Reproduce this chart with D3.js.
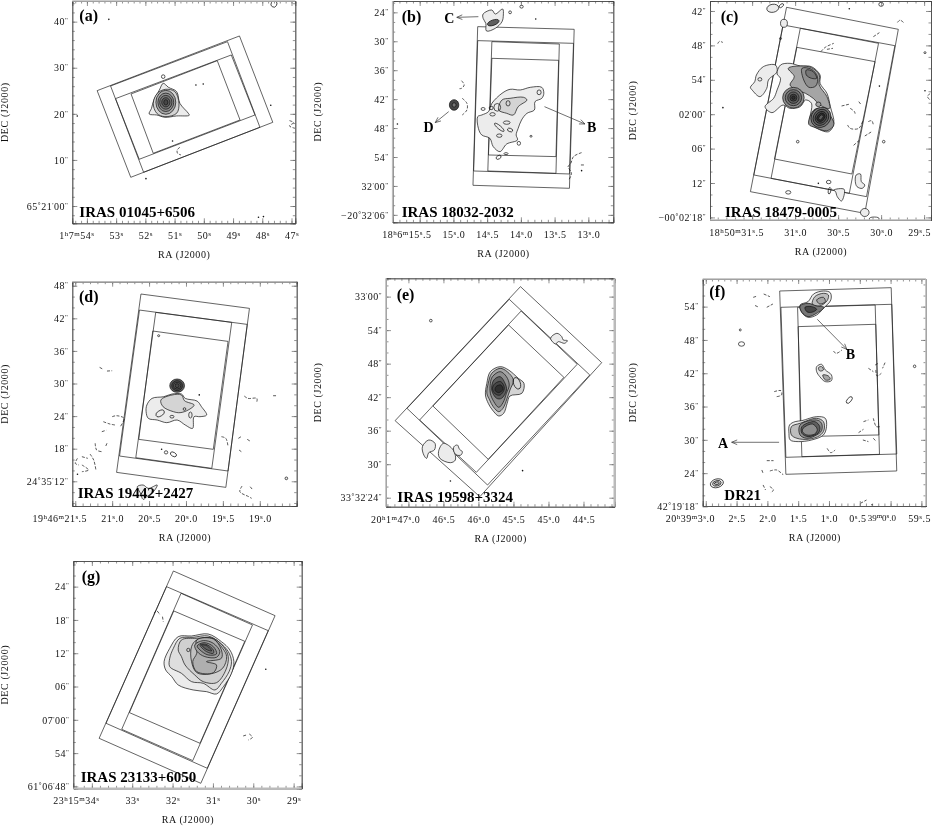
<!DOCTYPE html>
<html>
<head>
<meta charset="utf-8">
<script src="https://cdn.jsdelivr.net/npm/d3@7"></script>
<style>
html, body { margin: 0; background: #fff; }
svg { display: block; filter: blur(0.3px); }
text { font-family: "Liberation Serif", serif; fill: #111; }
.tick text { font-size: 10px; letter-spacing: 0.5px; }
.axis-title { font-size: 10px; letter-spacing: 0.6px; }
.panel-name { font-size: 15px; font-weight: bold; fill: #000; }
.panel-tag { font-size: 16px; font-weight: bold; fill: #000; }
.mark-name { font-size: 14px; font-weight: bold; fill: #000; }
</style>
</head>
<body>
<svg id="chart" width="932" height="826"></svg>
<script>
// All contour data is [RA seconds, Dec arcsec].
// Rings are [ra, dec, rxSec, ryArcsec, rotationDeg, level]; level null means an unfilled loop.

// ---- Panel (a) IRAS 01045+6506
const aRaTicks = [54, 53, 52, 51, 50, 49, 48, 47];
const aRaLabels = ['1^h7^m54^s', '53^s', '52^s', '51^s', '50^s', '49^s', '48^s', '47^s'];
const aDecTicks = [40, 30, 20, 10, 0];
const aDecLabels = ['40^"', '30^"', '20^"', '10^"', "65^°21^'00^\""];
const aFields = [
    [[53.65, 25.03], [48.78, 36.89], [47.64, 18.16], [52.50, 6.23]],
    [[53.19, 26.04], [49.19, 35.66], [48.08, 17.08], [52.06, 7.32]],
    [[53.02, 23.30], [49.06, 32.77], [48.25, 19.75], [52.21, 10.14]],
    [[52.49, 24.31], [49.54, 31.54], [48.76, 18.67], [51.73, 11.44]]
];
const aOuter = [[51.39, 26.62], [51.21, 25.75], [50.93, 24.82], [50.82, 22.28], [50.53, 20.12], [50.50, 19.68], [50.93, 19.54], [51.33, 19.25], [51.61, 19.75], [51.87, 19.97], [51.79, 21.2], [51.71, 23.0], [51.52, 25.18]];
const aInner = [[51.31, 25.32], [50.99, 24.82], [50.85, 22.28], [50.93, 20.12], [51.33, 19.39], [51.61, 20.12], [51.73, 22.28], [51.59, 24.45]];
const aRings = [
    [51.30, 22.5, .34, 2.6, 0, 3], [51.30, 22.5, .27, 2.0, 0, 4], [51.30, 22.5, .21, 1.5, 0, 5],
    [51.30, 22.5, .14, 1.0, 0, 6], [51.30, 22.5, .07, .58, 0, 7],
    [51.39, 28.07, .06, .4, 0, null], [47.60, 43.83, .1, .7, 30, null]
];
const aDashes = [
    [[50.82, 12.74], [50.91, 12.16], [50.90, 11.44], [50.78, 11.08]],
    [[47.07, 18.53], [46.93, 18.09], [47.07, 17.37], [46.88, 16.86]]
];
const aSpecks = [[53.25, 40.5], [54.33, 19.54], [51.98, 5.94], [50.02, 26.48], [50.27, 26.26], [51.07, 14.11], [47.71, 21.85], [48.13, -2.44], [47.96, -2.3]];

// ---- Panel (b) IRAS 18032-2032 (Dec counts arcsec south of -20 31 00)
const bRaTicks = [15.5, 15, 14.5, 14, 13.5, 13];
const bRaLabels = ['18^h6^m15^s.5', '15^s.0', '14^s.5', '14^s.0', '13^s.5', '13^s.0'];
const bDecTicks = [24, 30, 36, 42, 48, 54, 60, 66];
const bDecLabels = ['24^"', '30^"', '36^"', '42^"', '48^"', '54^"', "32^'00^\"", "−20^°32^'06^\""];
const bFields = [
    [[14.64, 26.97], [13.21, 27.52], [13.28, 60.49], [14.71, 59.87]],
    [[14.64, 29.87], [13.22, 30.43], [13.28, 57.52], [14.70, 56.90]],
    [[14.43, 30.08], [13.43, 30.57], [13.48, 57.38], [14.49, 56.90]],
    [[14.43, 33.54], [13.44, 33.95], [13.48, 53.92], [14.48, 53.58]]
];
const bOuter = [[14.64, 45.63], [14.58, 45.29], [14.48, 44.59], [14.43, 42.87], [14.28, 40.79], [14.16, 39.96], [14.01, 40.10], [13.86, 39.55], [13.69, 39.55], [13.66, 40.79], [13.69, 41.83], [13.79, 42.52], [13.80, 44.25], [13.91, 44.94], [13.99, 46.32], [14.04, 48.05], [14.07, 49.43], [14.05, 50.47], [14.21, 51.30], [14.31, 52.89], [14.41, 51.85], [14.46, 50.12], [14.58, 49.43], [14.63, 48.05]];
const bInner = [[14.28, 42.18], [14.16, 41.83], [13.96, 41.62], [13.91, 42.18], [14.04, 43.56], [14.11, 45.29], [14.21, 44.94], [14.33, 44.25]];
const bSourceC = [[14.56, 24.35], [14.43, 23.52], [14.38, 24.35], [14.27, 23.31], [14.26, 24.55], [14.28, 25.94], [14.38, 27.32], [14.51, 27.87], [14.52, 26.28], [14.56, 25.24]];
const bRings = [
    [14.35, 43.70, .05, .8, 0, null], [14.19, 42.87, .03, .55, 0, null], [14.56, 44.04, .03, .3, 0, null],
    [14.44, 43.83, .03, .35, 0, null], [14.42, 45.15, .04, .35, 0, null], [13.73, 40.59, .03, .5, 0, null],
    [14.32, 47.84, .09, .35, 40, null], [14.21, 46.87, .05, .35, 0, null], [14.16, 48.4, .04, .35, 20, null],
    [14.32, 49.57, .04, .35, 0, null], [14.03, 51.16, .025, .4, 0, null], [14.33, 54.06, .04, .35, -30, null],
    [14.22, 53.3, .03, .2, 0, null], [13.85, 49.7, .015, .2, 0, null],
    [14.41, 26.14, .09, .55, -20, 6], [14.99, 43.21, .07, 1.1, 0, 7], [14.99, 43.21, .03, .45, 0, 5],
    [14.16, 24, .02, .3, 0, null], [13.99, 22.83, .025, .3, 0, null]
];
const bDashes = [
    [[14.88, 38.17], [14.84, 39.06], [14.88, 39.76], [14.91, 39.83]],
    [[14.87, 41.83], [14.80, 42.87], [14.80, 44.25], [14.87, 45.29]],
    [[13.10, 53.09], [13.22, 53.92], [13.26, 55.31], [13.30, 56.0], [13.25, 57.38], [13.29, 58.76]],
    [[13.11, 55.65], [13.05, 55.65]]
];
const bSpecks = [[13.78, 25.38], [15.83, 47.15], [13.10, 56.83]];
const bArrows = [[14.63, 24.90, 14.95, 25.04], [15.07, 44.59, 15.27, 46.87], [13.65, 43.56, 13.05, 47.15]];
const bMarks = [['C', 15.06, 25.24], ['D', 15.37, 47.7], ['B', 12.95, 47.84]];

// ---- Panel (c) IRAS 18479-0005 (Dec counts arcsec south of -00 01 00)
const cRaTicks = [31.5, 31, 30.5, 30, 29.5];
const cRaLabels = ['18^h50^m31^s.5', '31^s.0', '30^s.5', '30^s.0', '29^s.5'];
const cDecTicks = [42, 48, 54, 60, 66, 72, 78];
const cDecLabels = ['42^"', '48^"', '54^"', "02^'00^\"", '06^"', '12^"', "−00^°02^'18^\""];
const cFields = [
    [[31.10, 41.36], [29.80, 45.20], [30.19, 77.29], [31.52, 73.51]],
    [[31.14, 44.44], [29.84, 48.05], [30.17, 74.38], [31.48, 70.60]],
    [[30.94, 45.02], [30.03, 47.64], [30.37, 73.80], [31.28, 71.19]],
    [[30.98, 48.34], [30.07, 50.84], [30.34, 70.43], [31.24, 67.81]]
];
const cWest = [[31.45, 53.16], [31.37, 51.71], [31.23, 51.42], [31.21, 52.58], [31.31, 54.03], [31.33, 55.49], [31.41, 56.94], [31.50, 55.78], [31.52, 55.31], [31.47, 54.33]];
const cMain = [[31.17, 51.42], [31.06, 51.13], [30.94, 51.59], [30.81, 51.71], [30.71, 53.16], [30.71, 54.62], [30.63, 56.36], [30.59, 58.69], [30.55, 61.59], [30.61, 63.05], [30.77, 62.29], [30.83, 61.59], [30.81, 58.10], [30.88, 57.52], [30.94, 58.69], [31.06, 58.98], [31.14, 58.40], [31.27, 59.73], [31.35, 58.69], [31.25, 57.23], [31.21, 55.78], [31.17, 53.74], [31.21, 52.99]];
const cMid = [[31.08, 52.0], [30.94, 51.59], [30.81, 51.88], [30.72, 53.16], [30.72, 54.91], [30.63, 56.94], [30.60, 58.98], [30.71, 58.40], [30.79, 57.23], [30.88, 56.36], [30.98, 55.78], [31.06, 54.91], [31.01, 53.45]];
const cCrest = [[30.92, 52.0], [30.81, 52.17], [30.74, 53.45], [30.76, 55.08], [30.84, 55.31], [30.90, 54.03]];
const cCrestTop = [[30.87, 52.29], [30.79, 52.58], [30.75, 53.74], [30.81, 53.74], [30.87, 53.16]];
const cSouth = [[30.83, 60.5], [30.77, 59.12], [30.67, 59.12], [30.58, 60.5], [30.55, 61.9], [30.63, 62.9], [30.77, 62.3], [30.84, 61.8]];
const cBlobE = [[30.29, 70.60], [30.24, 70.43], [30.23, 71.77], [30.19, 72.35], [30.22, 72.93], [30.28, 72.64], [30.30, 71.77]];
const cBlobS = [[30.55, 73.22], [30.43, 73.10], [30.46, 75.14], [30.51, 74.38], [30.53, 73.51]];
const cRings = [
    [31.02, 57.12, .125, 1.8, 0, 4], [31.02, 57.12, .095, 1.4, 0, 5], [31.02, 57.12, .066, 1.0, 0, 6],
    [31.02, 57.12, .04, .6, 0, 7], [31.02, 57.12, .02, .3, 0, 8],
    [30.70, 60.55, .11, 1.85, 40, 5], [30.70, 60.55, .085, 1.5, 40, 6], [30.70, 60.55, .062, 1.1, 40, 7],
    [30.70, 60.55, .04, .8, 40, 8], [30.70, 60.55, .02, .5, 40, 6],
    [30.73, 58.28, .03, .4, 0, 3], [31.41, 53.92, .023, .3, 0, null],
    [30.61, 71.83, .027, .3, 0, null], [31.08, 73.63, .03, .3, 0, null], [30.60, 73.34, .015, .58, 10, null],
    [30.19, 77.14, .05, .7, 0, 0], [30.08, 78.28, .058, .35, 0, null],
    [31.26, 41.53, .07, .7, -10, 0], [31.16, 41.07, .03, .25, -40, null], [31.13, 44.15, .04, .7, 0, 0],
    [31.17, 46.8, .012, .17, 0, null], [30.0, 40.84, .027, .35, 0, null], [30.97, 64.79, .015, .23, 0, null],
    [29.97, 64.79, .015, .23, 0, null], [29.49, 49.27, .012, .17, 0, null]
];
const cDashes = [
    [[30.70, 49.09], [30.65, 48.34], [30.55, 47.64]], [[30.63, 48.69], [30.56, 48.51]],
    [[30.09, 46.48], [30.02, 45.78]], [[31.90, 47.7], [31.88, 47.3], [31.84, 47.5]],
    [[30.46, 58.57], [30.36, 58.22]], [[30.26, 57.81], [30.23, 58.40]],
    [[30.36, 58.98], [30.31, 59.56], [30.30, 60.14]],
    [[30.39, 61.88], [30.36, 62.47], [30.26, 62.47], [30.21, 61.0]],
    [[30.15, 61.30], [30.11, 61.13], [30.09, 61.88]], [[30.19, 63.80], [30.11, 63.05]],
    [[30.32, 65.43], [30.26, 64.62]], [[29.43, 56.36], [29.46, 56.94], [29.43, 57.52]],
    [[29.81, 44.0], [29.78, 43.6], [29.74, 44.0]]
];
const cSpecks = [[31.84, 58.86], [30.73, 72.06], [30.37, 41.6], [29.49, 55.9], [30.02, 55.1]];

// ---- Panel (d) IRAS 19442+2427
const dRaTicks = [21.5, 21, 20.5, 20, 19.5, 19];
const dRaLabels = ['19^h46^m21^s.5', '21^s.0', '20^s.5', '20^s.0', '19^s.5', '19^s.0'];
const dDecTicks = [48, 42, 36, 30, 24, 18, 12];
const dDecLabels = ['48^"', '42^"', '36^"', '30^"', '24^"', '18^"', "24^°35^'12^\""];
const dFields = [
    [[20.61, 46.47], [19.14, 43.83], [19.46, 10.88], [20.94, 13.64]],
    [[20.63, 43.52], [19.17, 40.88], [19.43, 13.89], [20.90, 16.65]],
    [[20.41, 43.09], [19.38, 41.25], [19.65, 14.38], [20.68, 16.34]],
    [[20.45, 39.66], [19.43, 37.75], [19.63, 17.88], [20.64, 19.72]]
];
const dOuter = [[20.53, 26.04], [20.46, 27.26], [20.30, 27.57], [20.19, 28.06], [20.06, 28.06], [20.01, 27.26], [19.85, 26.77], [19.79, 25.73], [19.72, 24.20], [19.81, 23.89], [19.89, 23.89], [19.91, 21.74], [20.01, 22.36], [20.12, 23.28], [20.26, 22.79], [20.39, 23.28], [20.51, 23.58], [20.54, 24.81]];
const dInner = [[20.34, 26.96], [20.19, 27.88], [20.06, 27.88], [20.02, 26.83], [19.89, 26.04], [19.97, 25.12], [20.08, 24.63], [20.17, 24.81], [20.31, 25.73]];
const dBottom = [[20.66, 11.0], [20.58, 11.31], [20.51, 10.70], [20.39, 11.31], [20.44, 10.09], [20.53, 9.17], [20.58, 8.67], [20.62, 9.9]];
const dRings = [
    [20.12, 29.60, .10, 1.23, 0, 6], [20.12, 29.60, .072, .92, 0, 7], [20.12, 29.60, .05, .61, 0, 6],
    [20.12, 29.60, .027, .37, 0, 7],
    [20.35, 24.50, .063, .5, -30, null], [20.19, 23.89, .027, .25, 0, null], [19.94, 24.20, .023, .55, 0, null],
    [20.02, 25.30, .018, .25, 0, null], [20.37, 38.8, .014, .18, 0, null], [20.27, 17.32, .023, .3, 0, null],
    [20.17, 16.96, .045, .37, 30, null], [18.64, 12.54, .018, .25, 0, 0]
];
const dDashes = [
    [[21.17, 32.97], [21.12, 32.60]], [[21.07, 32.29], [21.00, 32.35]],
    [[21.00, 23.89], [20.94, 24.07], [20.84, 23.58], [20.89, 22.05]],
    [[21.12, 22.97], [21.03, 22.54], [20.96, 22.36]], [[21.14, 21.13], [21.08, 21.4]],
    [[21.23, 19.0], [21.21, 17.75], [21.14, 17.45]], [[21.07, 19.0], [21.09, 18.37]],
    [[21.47, 16.22], [21.5, 15.3], [21.45, 15.0]], [[21.41, 16.53], [21.33, 16.22]],
    [[21.30, 17.02], [21.25, 15.91], [21.22, 14.07]], [[21.41, 15.0], [21.32, 14.07], [21.41, 13.77]],
    [[19.21, 27.69], [19.16, 27.26], [19.04, 27.26], [19.04, 26.65]], [[18.82, 27.75], [18.78, 27.75]],
    [[19.52, 20.21], [19.46, 19.9], [19.43, 18.37]], [[19.29, 19.9], [19.24, 20.33]],
    [[19.17, 19.72], [19.12, 19.3]], [[19.28, 17.75], [19.25, 17.45]],
    [[19.24, 11.13], [19.27, 10.09], [19.15, 9.17], [19.11, 8.86]], [[19.13, 11.0], [19.10, 10.5]]
];
const dSpecks = [[20.33, 17.9], [19.82, 27.9], [21.47, 13.3]];

// ---- Panel (e) IRAS 19598+3324 (Dec counts arcsec from 33 32 00)
const eRaTicks = [47, 46.5, 46, 45.5, 45, 44.5];
const eRaLabels = ['20^h1^m47^s.0', '46^s.5', '46^s.0', '45^s.5', '45^s.0', '44^s.5'];
const eDecTicks = [60, 54, 48, 42, 36, 30, 24];
const eDecLabels = ["33^'00^\"", '54^"', '48^"', '42^"', '36^"', '30^"', "33^°32^'24^\""];
const eFields = [
    [[45.40, 61.79], [44.24, 48.18], [45.98, 24.18], [47.19, 37.79]],
    [[45.56, 59.52], [44.41, 45.97], [45.87, 26.27], [47.02, 40.0]],
    [[45.39, 57.43], [44.59, 47.88], [46.03, 28.54], [46.84, 37.91]],
    [[45.57, 54.93], [44.78, 45.55], [45.86, 30.87], [46.65, 40.42]]
];
const eLevel1 = [[45.83, 46.57], [45.69, 47.46], [45.57, 46.87], [45.43, 45.37], [45.35, 44.48], [45.38, 42.69], [45.55, 42.21], [45.59, 40.90], [45.64, 39.10], [45.71, 38.63], [45.80, 39.70], [45.86, 40.90], [45.90, 42.39], [45.88, 44.48]];
const eLevel2 = [[45.81, 46.27], [45.69, 47.16], [45.59, 46.57], [45.50, 45.07], [45.55, 43.28], [45.59, 41.79], [45.65, 40.0], [45.71, 39.40], [45.79, 40.30], [45.84, 41.49], [45.88, 42.69], [45.86, 44.48]];
const eLevel3 = [[45.80, 45.67], [45.69, 46.57], [45.60, 45.67], [45.56, 44.18], [45.60, 42.69], [45.65, 41.0], [45.71, 40.18], [45.78, 41.19], [45.83, 42.69], [45.83, 44.48]];
const eLevel4 = [[45.78, 45.07], [45.69, 45.67], [45.62, 44.48], [45.60, 43.28], [45.67, 41.79], [45.74, 41.79], [45.81, 43.28]];
const eLevel5 = [[45.76, 44.48], [45.68, 44.78], [45.63, 43.58], [45.69, 42.39], [45.76, 42.57], [45.80, 43.58]];
const eLevel6 = [[45.75, 43.88], [45.68, 44.18], [45.65, 43.40], [45.71, 42.81], [45.76, 43.16]];
const eBlobNE = [[44.97, 52.54], [44.88, 53.43], [44.81, 52.84], [44.79, 52.24], [44.73, 52.12], [44.77, 51.64], [44.86, 51.94], [44.90, 51.52]];
const eBlobSW1 = [[46.80, 33.13], [46.71, 34.33], [46.62, 33.73], [46.63, 32.54], [46.71, 32.06], [46.74, 31.04], [46.78, 31.64]];
const eBlobSW2 = [[46.57, 32.24], [46.50, 33.73], [46.36, 32.54], [46.33, 30.75], [46.40, 30.27], [46.55, 31.04]];
const eBlobSW3 = [[46.35, 33.13], [46.30, 33.43], [46.27, 32.66], [46.23, 32.24], [46.25, 31.64], [46.31, 31.64], [46.35, 32.24]];
const eRings = [[45.45, 44.48, .048, 1.07, -20, null], [46.68, 55.70, .019, .24, 0, null]];
const eSpecks = [[45.37, 28.84], [46.40, 26.99]];

// ---- Panel (f) DR21 (RA counts seconds from 20 39 00, negative is 59.x)
const fRaTicks = [3, 2.5, 2, 1.5, 1, .5, 0, -.5];
const fRaLabels = ['20^h39^m3^s.0', '2^s.5', '2^s.0', '1^s.5', '1^s.0', '0^s.5', '39^m0^s.0', '59^s.5'];
const fDecTicks = [54, 48, 42, 36, 30, 24, 18];
const fDecLabels = ['54^"', '48^"', '42^"', '36^"', '30^"', '24^"', "42^°19^'18^\""];
const fFields = [
    [[1.80, 56.82], [-.01, 57.42], [-.10, 24.39], [1.70, 23.79]],
    [[1.78, 53.88], [-.02, 54.42], [-.10, 27.45], [1.70, 26.85]],
    [[1.51, 53.88], [.25, 54.30], [.18, 27.39], [1.44, 26.97]],
    [[1.50, 50.40], [.24, 50.82], [.19, 30.88], [1.46, 30.58]]
];
const fNorth1 = [[1.47, 54.30], [1.34, 54.90], [1.25, 56.28], [1.09, 56.82], [.98, 56.52], [.97, 55.20], [1.09, 53.70], [1.20, 52.50], [1.34, 52.08], [1.44, 52.92]];
const fNorth2 = [[1.23, 55.80], [1.09, 56.40], [1.01, 56.10], [1.03, 55.08], [1.15, 54.12], [1.27, 54.42]];
const fNorth3 = [[1.20, 55.20], [1.09, 55.68], [1.06, 54.90], [1.15, 54.48]];
const fNorth4 = [[1.47, 54.12], [1.34, 54.60], [1.20, 54.12], [1.08, 53.88], [1.20, 52.80], [1.34, 52.20], [1.44, 52.98]];
const fNorth5 = [[1.39, 53.88], [1.28, 54.0], [1.20, 53.52], [1.28, 52.98], [1.36, 53.10]];
const fSouth1 = [[1.64, 32.68], [1.55, 33.28], [1.44, 33.46], [1.20, 34.18], [1.06, 33.88], [1.04, 32.38], [1.09, 30.88], [1.28, 29.98], [1.50, 29.68], [1.63, 29.98], [1.65, 31.18]];
const fSouth2 = [[1.61, 32.38], [1.47, 32.98], [1.20, 33.88], [1.09, 33.28], [1.08, 31.78], [1.15, 30.76], [1.34, 30.10], [1.52, 30.28], [1.61, 30.88]];
const fSouth3 = [[1.47, 32.68], [1.20, 33.58], [1.12, 32.98], [1.12, 31.66], [1.20, 30.88], [1.36, 30.28], [1.47, 30.88]];
const fSouth4 = [[1.44, 32.38], [1.23, 33.28], [1.15, 32.38], [1.17, 31.30], [1.34, 30.58], [1.44, 31.18]];
const fSouth5 = [[1.42, 32.08], [1.27, 32.86], [1.19, 31.90], [1.23, 31.06], [1.36, 30.88], [1.43, 31.48]];
const fMid1 = [[1.20, 43.19], [1.12, 43.61], [1.06, 42.59], [.96, 41.69], [.96, 40.67], [1.06, 40.49], [1.15, 41.39], [1.20, 42.29]];
const fMid2 = [[1.17, 43.01], [1.12, 43.19], [1.09, 42.59], [1.15, 42.41]];
const fMid3 = [[1.10, 41.69], [1.01, 41.51], [.98, 40.91], [1.06, 40.79]];
const fRings = [
    [2.82, 22.17, .108, .78, -15, 0], [2.82, 22.17, .07, .48, -15, 1], [2.82, 22.17, .04, .24, -15, 2],
    [.67, 37.18, .065, .36, -50, null], [2.44, 49.80, .016, .18, 0, null], [2.42, 47.27, .05, .4, 0, null],
    [-.39, 43.25, .02, .24, 0, null]
];
const fDashes = [
    [[2.23, 55.68], [2.16, 55.92]], [[2.06, 56.28], [1.96, 55.80]], [[2.01, 53.88], [1.91, 54.48]],
    [[2.20, 54.2], [2.14, 53.9]], [[1.89, 38.68], [1.78, 38.86], [1.77, 38.08], [1.85, 37.78]],
    [[.93, 46.0], [.88, 45.59], [.79, 46.19]], [[.36, 42.89], [.28, 42.29]], [[.25, 43.49], [.20, 43.79]],
    [[.09, 43.91], [.13, 42.89]], [[.24, 42.59], [.22, 41.51], [.15, 41.99]],
    [[.44, 33.28], [.36, 33.58]], [[.28, 33.88], [.23, 32.38], [.17, 32.38]], [[.52, 31.30], [.44, 31.9]],
    [[.45, 29.98], [.36, 29.68]], [[.28, 30.28], [.23, 29.68]], [[1.03, 28.47], [.97, 27.69], [.90, 28.17]],
    [[2.01, 26.25], [1.90, 26.25]], [[2.09, 24.57], [2.07, 23.97]], [[1.96, 24.39], [1.85, 24.57], [1.74, 23.67]],
    [[2.07, 21.87], [2.03, 20.97]], [[1.96, 21.57], [1.90, 20.97], [1.95, 20.49]], [[.49, 18.56], [.39, 19.16]]
];
const fSpecks = [[.3, 18.3]];
const fArrows = [[1.81, 29.56, 2.58, 29.56], [1.19, 51.72, .71, 46.31]];
const fMarks = [['A', 2.72, 29.5], ['B', .65, 45.47]];

// ---- Panel (g) IRAS 23133+6050 (Dec counts arcsec from 61 06 00)
const gRaTicks = [34, 33, 32, 31, 30, 29];
const gRaLabels = ['23^h15^m34^s', '33^s', '32^s', '31^s', '30^s', '29^s'];
const gDecTicks = [84, 78, 72, 66, 60, 54, 48];
const gDecLabels = ['24^"', '18^"', '12^"', '06^"', "07^'00^\"", '54^"', "61^°06^'48^\""];
const gFields = [
    [[31.98, 86.82], [29.46, 78.77], [31.30, 48.56], [33.82, 56.67]],
    [[32.15, 84.0], [29.63, 76.07], [31.14, 51.27], [33.65, 59.38]],
    [[31.79, 82.80], [30.02, 77.09], [31.50, 52.65], [33.26, 58.29]],
    [[31.97, 79.62], [30.21, 74.15], [31.32, 55.77], [33.07, 61.30]]
];
const gLevel1 = [[32.21, 70.49], [32.07, 72.89], [31.86, 74.99], [31.53, 75.11], [31.12, 75.47], [30.79, 74.09], [30.58, 72.59], [30.48, 70.49], [30.54, 68.38], [30.74, 65.98], [30.91, 64.66], [31.16, 65.08], [31.49, 65.38], [31.86, 66.28], [32.02, 67.78], [32.17, 68.98]];
const gLevel2 = [[32.07, 71.09], [31.98, 72.89], [31.82, 74.69], [31.49, 74.87], [31.12, 75.11], [30.83, 73.91], [30.62, 72.29], [30.54, 70.49], [30.60, 68.68], [30.79, 66.58], [30.95, 65.38], [31.24, 66.58], [31.53, 66.88], [31.78, 68.38], [32.07, 69.58]];
const gLevel3 = [[31.86, 72.59], [31.78, 74.39], [31.40, 74.69], [30.99, 74.69], [30.74, 73.19], [30.62, 71.39], [30.68, 68.98], [30.91, 66.70], [31.24, 66.88], [31.45, 68.08], [31.69, 69.88], [31.78, 71.39]];
const gLevel4 = [[31.53, 73.19], [31.40, 74.39], [30.99, 74.57], [30.76, 72.89], [30.66, 71.39], [30.76, 69.28], [31.07, 68.26], [31.40, 68.50], [31.53, 70.49]];
const gLevel5 = [[31.40, 74.39], [30.99, 74.57], [30.79, 72.59], [30.79, 71.09], [31.16, 70.49], [30.91, 69.89], [30.99, 68.50], [31.40, 68.68], [31.50, 70.49], [31.40, 72.0]];
const gLevel6 = [[31.45, 73.49], [31.24, 74.27], [30.99, 73.79], [30.83, 72.29], [30.91, 71.27], [31.20, 71.39], [31.39, 72.29]];
const gLevel7 = [[31.39, 73.31], [31.22, 73.91], [30.99, 73.19], [30.91, 71.87], [31.12, 71.69], [31.32, 72.59]];
const gLevel8 = [[31.32, 73.49], [31.17, 73.61], [30.99, 72.59], [30.99, 71.99], [31.16, 72.29]];
const gLevel9 = [[31.28, 73.49], [31.14, 73.31], [31.03, 72.41], [31.17, 72.71]];
const gRings = [[31.61, 72.59, .04, .3, 0, null]];
const gDashes = [
    [[32.46, 79.20], [32.40, 79.68], [32.31, 78.89]], [[32.25, 78.59], [32.23, 77.69]],
    [[30.25, 57.09], [30.17, 57.27]], [[30.10, 57.45], [30.02, 56.85], [30.12, 56.37]]
];
const gSpecks = [[29.69, 69.10]];

// Layout: frame box in pixels plus the data domain of each panel.
const panels = [
    { tag: '(a)', name: 'IRAS 01045+6506', box: [72.3, 295.3, 1, 223.3], ra: [54.5, 46.87], dec: [44.48, -3.75], raTicks: aRaTicks, raLabels: aRaLabels, decTicks: aDecTicks, decLabels: aDecLabels, raMinor: .2, decMinor: 2, tagAt: [79.3, 20.7], nameAt: [79.3, 217], titleDx: 67, heavy: ['top'], fields: aFields, contours: [[aOuter, 0], [aInner, 1]], rings: aRings, dashes: aDashes, specks: aSpecks },
    { tag: '(b)', name: 'IRAS 18032-2032', box: [392.7, 613.3, 1, 222.3], ra: [15.9, 12.63], dec: [21.65, 67.54], raTicks: bRaTicks, raLabels: bRaLabels, decTicks: bDecTicks, decLabels: bDecLabels, raMinor: .1, decMinor: 2, tagAt: [401.7, 21.7], nameAt: [401.7, 217], titleDx: 75, heavy: ['left'], fields: bFields, contours: [[bOuter, 0], [bInner, 1], [bSourceC, 0]], rings: bRings, dashes: bDashes, specks: bSpecks, arrows: bArrows, marks: bMarks },
    { tag: '(c)', name: 'IRAS 18479-0005', box: [710, 931, 1, 220], ra: [31.99, 29.42], dec: [40.26, 78.45], raTicks: cRaTicks, raLabels: cRaLabels, decTicks: cDecTicks, decLabels: cDecLabels, raMinor: .1, decMinor: 2, tagAt: [720.7, 21.7], nameAt: [725, 216.7], titleDx: 77, heavy: ['bottom'], fields: cFields, contours: [[cWest, 0], [cMain, 0], [cMid, 3], [cCrest, 4], [cCrestTop, 5], [cSouth, 4], [cBlobE, 0], [cBlobS, 0]], rings: cRings, dashes: cDashes, specks: cSpecks },
    { tag: '(d)', name: 'IRAS 19442+2427', box: [72.3, 296.7, 281.7, 506], ra: [21.54, 18.5], dec: [48.74, 7.45], raTicks: dRaTicks, raLabels: dRaLabels, decTicks: dDecTicks, decLabels: dDecLabels, raMinor: .1, decMinor: 2, tagAt: [79, 301.7], nameAt: [77.7, 498.3], titleDx: 67, heavy: ['top'], fields: dFields, contours: [[dOuter, 0], [dInner, 1], [dBottom, 0]], rings: dRings, dashes: dDashes, specks: dSpecks },
    { tag: '(e)', name: 'IRAS 19598+3324', box: [386, 614.3, 278.3, 506.7], ra: [47.32, 44.06], dec: [63.28, 22.39], raTicks: eRaTicks, raLabels: eRaLabels, decTicks: eDecTicks, decLabels: eDecLabels, raMinor: .1, decMinor: 2, tagAt: [396.7, 300], nameAt: [397.3, 501.7], titleDx: 68, heavy: ['left', 'right'], fields: eFields, contours: [[eLevel1, 1], [eLevel2, 3], [eLevel3, 4], [eLevel4, 6], [eLevel5, 7], [eLevel6, 8], [eBlobNE, 0], [eBlobSW1, 0], [eBlobSW2, 0], [eBlobSW3, 0]], rings: eRings, dashes: [], specks: eSpecks },
    { tag: '(f)', name: 'DR21', box: [702.7, 926, 279, 506], ra: [3.05, -.575], dec: [58.98, 18.08], raTicks: fRaTicks, raLabels: fRaLabels, decTicks: fDecTicks, decLabels: fDecLabels, raMinor: .1, decMinor: 2, tagAt: [709.3, 296.7], nameAt: [724.3, 500], titleDx: 70, heavy: ['top', 'right'], fields: fFields, contours: [[fNorth1, 0], [fNorth2, 2], [fNorth3, 3], [fNorth4, 5], [fNorth5, 7], [fSouth1, 0], [fSouth2, 2], [fSouth3, 4], [fSouth4, 6], [fSouth5, 4], [fMid1, 0], [fMid2, 2], [fMid3, 3]], rings: fRings, dashes: fDashes, specks: fSpecks, arrows: fArrows, marks: fMarks },
    { tag: '(g)', name: 'IRAS 23133+6050', box: [73.3, 301.7, 561, 788.3], ra: [34.46, 28.8], dec: [88.62, 47.66], raTicks: gRaTicks, raLabels: gRaLabels, decTicks: gDecTicks, decLabels: gDecLabels, raMinor: .2, decMinor: 2, tagAt: [81.7, 581.7], nameAt: [80.7, 782.3], titleDx: 68, heavy: ['bottom'], fields: gFields, contours: [[gLevel1, 0], [gLevel2, .6], [gLevel3, 1.2], [gLevel4, 1.8], [gLevel5, 2.6], [gLevel6, 3.2], [gLevel7, 4], [gLevel8, 5], [gLevel9, 6]], rings: gRings, dashes: gDashes, specks: gSpecks }
];

const grey = d3.scaleLinear().domain([0, 8]).range(['#ececec', '#2f2f2f']);
const svg = d3.select('#chart');
const pageRight = 931;

// Turn "54^s" into text with raised tspans
function richText(selection) {
    selection.each(function () {
        const text = d3.select(this);
        const raw = text.text();
        let raised = false;
        text.text(null);
        raw.split(/(\^.)/).filter(Boolean).forEach(part => {
            const sup = part[0] === '^';
            const span = text.append('tspan').text(sup ? part.slice(1) : part);
            if (sup) span.attr('font-size', '7px');
            if (sup !== raised) span.attr('dy', sup ? -3 : 3);
            raised = sup;
        });
    });
}

function minorTicks(domain, step) {
    const lo = Math.min(...domain), hi = Math.max(...domain);
    return d3.range(Math.ceil(lo / step), Math.floor(hi / step) + 1).map(k => k * step);
}

panels.forEach((p, idx) => {
    const [left, right, top, bottom] = p.box;
    const x = d3.scaleLinear().domain(p.ra).range([left, right]);
    const y = d3.scaleLinear().domain(p.dec).range([top, bottom]);
    const g = svg.append('g');

    const clipId = `clip-${idx}`;
    g.append('clipPath').attr('id', clipId).append('rect')
        .attr('x', left).attr('y', top).attr('width', right - left).attr('height', bottom - top);
    const plot = g.append('g').attr('clip-path', `url(#${clipId})`);

    const closedLine = d3.line().x(d => x(d[0])).y(d => y(d[1])).curve(d3.curveLinearClosed);
    const smoothLine = d3.line().x(d => x(d[0])).y(d => y(d[1])).curve(d3.curveCatmullRomClosed.alpha(0.5));
    const openLine = d3.line().x(d => x(d[0])).y(d => y(d[1])).curve(d3.curveCatmullRom.alpha(0.5));

    // Mosaic field outlines
    plot.append('g').selectAll('path').data(p.fields).join('path')
        .attr('d', closedLine)
        .attr('fill', 'none')
        .attr('stroke', '#222')
        .attr('stroke-width', 0.7);

    // Filled contours
    plot.append('g').selectAll('path').data(p.contours).join('path')
        .attr('d', d => smoothLine(d[0]))
        .attr('fill', d => grey(d[1]))
        .attr('stroke', '#111')
        .attr('stroke-width', 0.7);

    // Peaks and small loops
    plot.append('g').selectAll('ellipse').data(p.rings).join('ellipse')
        .attr('cx', d => x(d[0]))
        .attr('cy', d => y(d[1]))
        .attr('rx', d => Math.abs(x(d[0] + d[2]) - x(d[0])))
        .attr('ry', d => Math.abs(y(d[1] + d[3]) - y(d[1])))
        .attr('transform', d => `rotate(${d[4]},${x(d[0])},${y(d[1])})`)
        .attr('fill', d => d[5] === null ? 'none' : grey(d[5]))
        .attr('stroke', '#111')
        .attr('stroke-width', 0.7);

    // Negative contours
    plot.append('g').selectAll('path').data(p.dashes).join('path')
        .attr('d', openLine)
        .attr('fill', 'none')
        .attr('stroke', '#111')
        .attr('stroke-width', 0.7)
        .attr('stroke-dasharray', '3 1.5');

    plot.append('g').selectAll('circle').data(p.specks).join('circle')
        .attr('cx', d => x(d[0]))
        .attr('cy', d => y(d[1]))
        .attr('r', 0.8)
        .attr('fill', '#111');

    // Arrows to the labelled sources
    const arrows = plot.append('g').selectAll('g').data(p.arrows || []).join('g')
        .attr('stroke', '#333').attr('fill', 'none').attr('stroke-width', 0.7);
    arrows.append('line')
        .attr('x1', d => x(d[0])).attr('y1', d => y(d[1]))
        .attr('x2', d => x(d[2])).attr('y2', d => y(d[3]));
    arrows.append('path').attr('d', d => {
        const ang = Math.atan2(y(d[3]) - y(d[1]), x(d[2]) - x(d[0]));
        const tx = x(d[2]), ty = y(d[3]);
        const wing = s => [tx - 6 * Math.cos(ang + s * 0.4), ty - 6 * Math.sin(ang + s * 0.4)];
        return d3.line()([wing(1), [tx, ty], wing(-1)]);
    });

    // Frame and ticks on all four sides
    const styleAxis = a => {
        a.select('.domain').attr('stroke', '#444').attr('stroke-width', 0.7);
        a.selectAll('.tick line').attr('stroke', '#666').attr('stroke-width', 0.7);
    };
    const raAxis = (gen, yPos) => g.append('g').attr('transform', `translate(0,${yPos})`).call(gen).call(styleAxis);
    const decAxis = (gen, xPos) => g.append('g').attr('transform', `translate(${xPos},0)`).call(gen).call(styleAxis);
    const raMinor = minorTicks(p.ra, p.raMinor);
    const decMinor = minorTicks(p.dec, p.decMinor);

    [[d3.axisBottom, bottom], [d3.axisTop, top]].forEach(([make, pos]) => {
        raAxis(make(x).tickValues(raMinor).tickSize(-2.5).tickFormat(''), pos);
        const isBottom = make === d3.axisBottom;
        const ax = raAxis(make(x).tickValues(p.raTicks).tickSize(-5).tickPadding(9)
            .tickFormat(isBottom ? (d, i) => p.raLabels[i] : ''), pos);
        if (isBottom) {
            ax.selectAll('text').call(richText).attr('text-anchor', 'middle');
            // Long labels keep the seconds under the tick, prefix runs off to the left
            const labels = ax.selectAll('text').nodes();
            labels.forEach((node, i) => {
                const spans = Array.from(node.querySelectorAll('tspan'));
                const lastM = spans.findIndex(s => s.textContent === 'm');
                if (lastM < 0) return;
                const hasHours = spans.some(s => s.textContent === 'h');
                const tail = spans.slice(lastM + 1).reduce((w, s) => w + s.getComputedTextLength(), 0);
                const label = d3.select(node).attr('text-anchor', 'end');
                if (hasHours) {
                    label.attr('x', tail / 2);
                } else {
                    // "39m0.0" in panel (f) squeezes in next to its neighbour
                    label.attr('x', 5).style('font-size', '9px').style('letter-spacing', 0);
                    d3.select(labels[i - 1]).attr('x', -2.5);
                }
            });
            // Nothing may run off the page
            labels.forEach(node => {
                const over = node.getBoundingClientRect().right - pageRight;
                if (over > 0) d3.select(node).attr('x', -over);
            });
        }
    });
    [[d3.axisLeft, left], [d3.axisRight, right]].forEach(([make, pos]) => {
        decAxis(make(y).tickValues(decMinor).tickSize(-2.5).tickFormat(''), pos);
        const isLeft = make === d3.axisLeft;
        const ax = decAxis(make(y).tickValues(p.decTicks).tickSize(-5).tickPadding(4)
            .tickFormat(isLeft ? (d, i) => p.decLabels[i] : ''), pos);
        if (isLeft) ax.selectAll('text').call(richText);
    });

    // Thick grey sides, as the reference shows them
    const sides = { top: [left, top, right, top], bottom: [left, bottom, right, bottom], left: [left, top, left, bottom], right: [right, top, right, bottom] };
    g.append('g').selectAll('line').data(p.heavy).join('line')
        .attr('x1', d => sides[d][0]).attr('y1', d => sides[d][1])
        .attr('x2', d => sides[d][2]).attr('y2', d => sides[d][3])
        .attr('stroke', '#bbb').attr('stroke-width', 1.6);

    // Titles and labels
    g.append('text').attr('class', 'axis-title')
        .attr('text-anchor', 'middle')
        .attr('x', (left + right) / 2 + 0.5)
        .attr('y', bottom + 35)
        .text('RA (J2000)');
    g.append('text').attr('class', 'axis-title')
        .attr('text-anchor', 'middle')
        .attr('transform', `translate(${left - p.titleDx + 3},${(top + bottom) / 2}) rotate(-90)`)
        .text('DEC (J2000)');
    g.append('text').attr('class', 'panel-tag').attr('x', p.tagAt[0]).attr('y', p.tagAt[1]).text(p.tag);
    g.append('text').attr('class', 'panel-name').attr('x', p.nameAt[0]).attr('y', p.nameAt[1]).text(p.name);
    g.append('g').selectAll('text').data(p.marks || []).join('text')
        .attr('class', 'mark-name')
        .attr('text-anchor', 'middle')
        .attr('x', d => x(d[1]))
        .attr('y', d => y(d[2]) + 5)
        .text(d => d[0]);
});
</script>
</body>
</html>
